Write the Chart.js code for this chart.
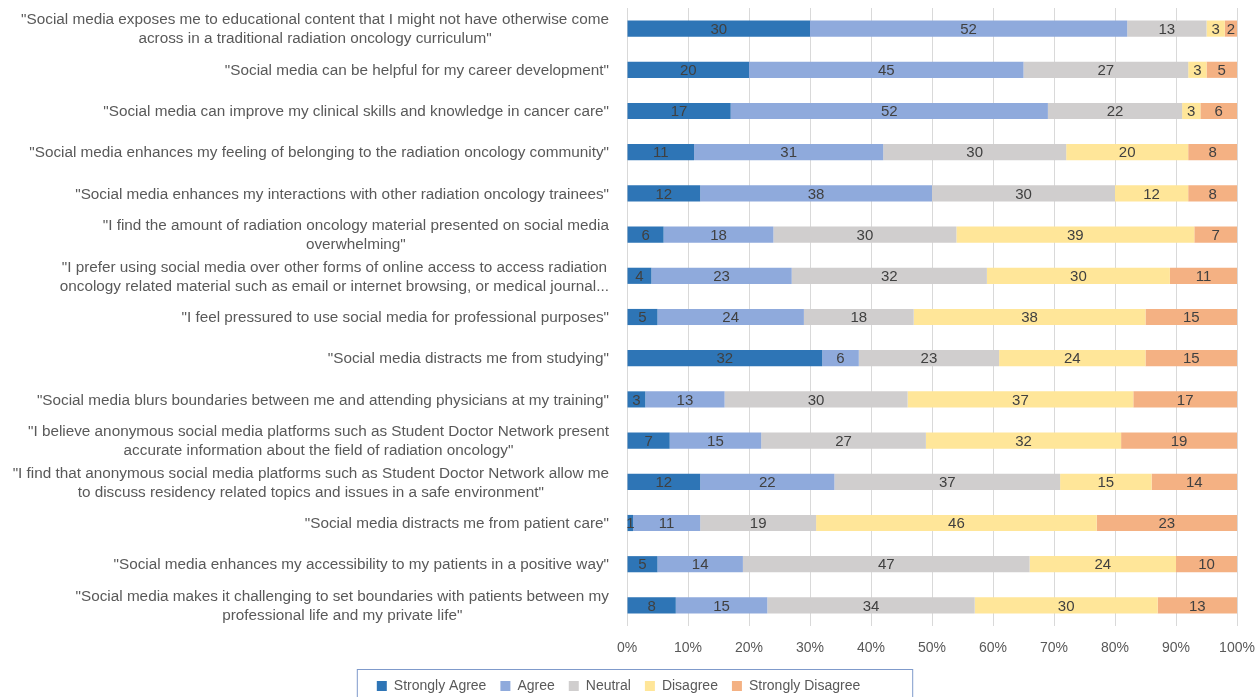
<!DOCTYPE html>
<html>
<head>
<meta charset="utf-8">
<script src="https://cdn.jsdelivr.net/npm/chart.js@4.4.1/dist/chart.umd.min.js"></script>
<style>
  html, body { margin: 0; padding: 0; background: #fff; }
</style>
</head>
<body>
<canvas id="mc" width="1255" height="697"></canvas>
<script>
const statements = [
    ['"Social media exposes me to educational content that I might not have otherwise come', 'across in a traditional radiation oncology curriculum"'],
    ['"Social media can be helpful for my career development"'],
    ['"Social media can improve my clinical skills and knowledge in cancer care"'],
    ['"Social media enhances my feeling of belonging to the radiation oncology community"'],
    ['"Social media enhances my interactions with other radiation oncology trainees"'],
    ['"I find the amount of radiation oncology material presented on social media', 'overwhelming"'],
    ['"I prefer using social media over other forms of online access to access radiation', 'oncology related material such as email or internet browsing, or medical journal...'],
    ['"I feel pressured to use social media for professional purposes"'],
    ['"Social media distracts me from studying"'],
    ['"Social media blurs boundaries between me and attending physicians at my training"'],
    ['"I believe anonymous social media platforms such as Student Doctor Network present', 'accurate information about the field of radiation oncology"'],
    ['"I find that anonymous social media platforms such as Student Doctor Network allow me', 'to discuss residency related topics and issues in a safe environment"'],
    ['"Social media distracts me from patient care"'],
    ['"Social media enhances my accessibility to my patients in a positive way"'],
    ['"Social media makes it challenging to set boundaries with patients between my', 'professional life and my private life"']
];

const stronglyAgree    = [30, 20, 17, 11, 12,  6,  4,  5, 32,  3,  7, 12,  1,  5,  8];
const agree            = [52, 45, 52, 31, 38, 18, 23, 24,  6, 13, 15, 22, 11, 14, 15];
const neutral          = [13, 27, 22, 30, 30, 30, 32, 18, 23, 30, 27, 37, 19, 47, 34];
const disagree         = [ 3,  3,  3, 20, 12, 39, 30, 38, 24, 37, 32, 15, 46, 24, 30];
const stronglyDisagree = [ 2,  5,  6,  8,  8,  7, 11, 15, 15, 17, 19, 14, 23, 10, 13];

const seriesNames = ['Strongly Agree', 'Agree', 'Neutral', 'Disagree', 'Strongly Disagree'];
const seriesColors = ['#2E75B6', '#8FAADC', '#D0CECE', '#FFE699', '#F4B183'];

const FONT = "'Liberation Sans', Arial, sans-serif";

// category labels drawn by hand so multi-line ones are centred within themselves
const statementLabels = {
    id: 'statementLabels',
    afterDraw(chart) {
        const y = chart.scales.y;
        const c = chart.ctx;
        c.save();
        c.font = '15.3px ' + FONT;
        c.fillStyle = '#595959';
        c.textAlign = 'center';
        c.textBaseline = 'middle';
        const right = y.right - 18;
        statements.forEach((lines, i) => {
            const w = Math.max(...lines.map(l => c.measureText(l).width));
            const cx = right - w / 2;
            const cy = y.getPixelForValue(i) + 1;
            const lh = 19;
            lines.forEach((l, j) => {
                c.fillText(l, cx, cy + (j - (lines.length - 1) / 2) * lh);
            });
        });
        c.restore();
    }
};

const valueLabels = {
    id: 'valueLabels',
    afterDatasetsDraw(chart) {
        const c = chart.ctx;
        c.save();
        c.font = '15px ' + FONT;
        c.fillStyle = '#404040';
        c.textAlign = 'center';
        c.textBaseline = 'middle';
        chart.data.datasets.forEach((ds, di) => {
            chart.getDatasetMeta(di).data.forEach((el, i) => {
                c.fillText(String(ds.data[i]), (el.x + el.base) / 2, el.y + 1);
            });
        });
        c.restore();
    }
};

const legendBorder = {
    id: 'legendBorder',
    afterDraw(chart) {
        const hb = chart.legend.legendHitBoxes;
        if (!hb || !hb.length) return;
        const c = chart.ctx;
        const left = hb[0].left - 20;
        const last = hb[hb.length - 1];
        const right = last.left + last.width + 52;
        const top = hb[0].top - 10;
        c.save();
        c.strokeStyle = '#7F9ACB';
        c.lineWidth = 1;
        c.strokeRect(left + 0.5, top + 0.5, right - left, 60);
        c.restore();
    }
};

const ctx = document.getElementById('mc');

new Chart(ctx, {
    type: 'bar',
    data: {
        labels: statements,
        datasets: seriesNames.map((name, i) => ({
            label: name,
            data: [stronglyAgree, agree, neutral, disagree, stronglyDisagree][i],
            backgroundColor: seriesColors[i],
            borderWidth: 0,
            barPercentage: 0.49,
            categoryPercentage: 0.8
        }))
    },
    options: {
        indexAxis: 'y',
        responsive: false,
        devicePixelRatio: 1,
        animation: false,
        layout: {
            padding: { left: 0, right: 18, top: 8, bottom: -6 }
        },
        scales: {
            x: {
                stacked: true,
                min: 0,
                max: 100,
                afterFit: s => { s.height = 39; s.paddingRight = 0; },
                grid: { color: '#D9D9D9', drawTicks: false },
                border: { display: false },
                ticks: {
                    stepSize: 10,
                    padding: 14,
                    color: '#595959',
                    font: { family: FONT, size: 14 },
                    callback: v => v + '%'
                }
            },
            y: {
                stacked: true,
                afterFit: s => { s.width = 627; },
                grid: { display: false },
                border: { display: false },
                ticks: { display: false }
            }
        },
        plugins: {
            legend: {
                position: 'bottom',
                labels: {
                    boxWidth: 10,
                    boxHeight: 10,
                    padding: 14,
                    color: '#595959',
                    font: { family: FONT, size: 14 }
                }
            },
            tooltip: { enabled: false }
        }
    },
    plugins: [statementLabels, valueLabels, legendBorder]
});
</script>
</body>
</html>
